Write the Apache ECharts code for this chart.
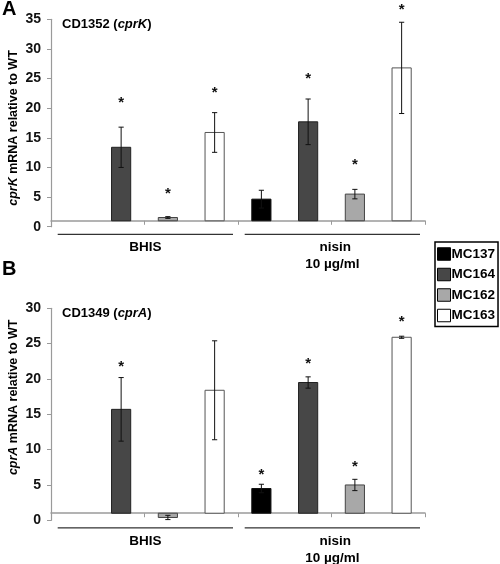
<!DOCTYPE html>
<html>
<head>
<meta charset="utf-8">
<script src="https://cdn.jsdelivr.net/npm/echarts@6/dist/echarts.min.js"></script>
<style>html,body{margin:0;padding:0;background:#fff;}#c{width:500px;height:564px;}</style>
</head>
<body>
<div id="c"></div>
<script>
// ---- data ----
const strains = ['MC137', 'MC164', 'MC162', 'MC163'];
const conditions = ['BHIS', 'nisin'];
const conditionSub = ['', '10 µg/ml'];
const categories = ['BHIS MC137', 'BHIS MC164', 'BHIS MC162', 'BHIS MC163', 'nisin MC137', 'nisin MC164', 'nisin MC162', 'nisin MC163'];
const baseline = 1; // expression relative to WT

// Panel A: CD1352 (cprK)
const cprkBHIS = [1, 13.4, 1.55, 15.9];
const cprkBHISErr = [0, 3.4, 0.15, 3.35];
const cprkNisin = [4.65, 17.7, 5.5, 26.8];
const cprkNisinErr = [1.5, 3.85, 0.8, 7.7];
const cprkStarBHIS = [null, 21.4, 6.1, 23.1];
const cprkStarNisin = [null, 25.4, 10.9, 37.1];
const cprkTicks = [0, 5, 10, 15, 20, 25, 30, 35];

// Panel B: CD1349 (cprA)
const cpraBHIS = [1, 15.7, 0.4, 18.4];
const cpraBHISErr = [0, 4.5, 0.3, 7.0];
const cpraNisin = [4.5, 19.5, 5.0, 25.9];
const cpraNisinErr = [0.6, 0.8, 0.8, 0.15];
const cpraStarBHIS = [null, 22.1, null, null];
const cpraStarNisin = [6.9, 22.5, 8.0, 28.5];
const cpraTicks = [0, 5, 10, 15, 20, 25, 30];

// ---- style ----
const FONT = "'Liberation Sans', Arial, sans-serif";
const fills = ['#000000', '#474747', '#a8a8a8', '#ffffff'];
const strokes = ['#111111', '#222222', '#444444', '#555555'];

const panels = [
  { bhis: cprkBHIS, bhisErr: cprkBHISErr, nisin: cprkNisin, nisinErr: cprkNisinErr,
    starB: cprkStarBHIS, starN: cprkStarNisin, ticks: cprkTicks,
    title: 'CD1352 ({i|cprK})', yname: '{i|cprK} mRNA relative to WT', letter: 'A',
    grid: { left: 51, top: 19.3, width: 374, height: 207.4 } },
  { bhis: cpraBHIS, bhisErr: cpraBHISErr, nisin: cpraNisin, nisinErr: cpraNisinErr,
    starB: cpraStarBHIS, starN: cpraStarNisin, ticks: cpraTicks,
    title: 'CD1349 ({i|cprA})', yname: '{i|cprA} mRNA relative to WT', letter: 'B',
    grid: { left: 51, top: 308.3, width: 374, height: 212 } }
];

function barRender(fill, stroke) {
  return function (params, api) {
    const x = api.value(0), v = api.value(1), e = api.value(2);
    const b = api.coord([x, baseline]);
    const t = api.coord([x, v]);
    const w = api.size([1, 0])[0] * 0.41;
    const children = [];
    const h = Math.abs(b[1] - t[1]);
    if (h > 0.5) {
      children.push({ type: 'rect', shape: { x: b[0] - w / 2, y: Math.min(b[1], t[1]), width: w, height: h },
        style: { fill: fill, stroke: stroke, lineWidth: 1 } });
    }
    if (e > 0) {
      const hi = api.coord([x, v + e]), lo = api.coord([x, v - e]);
      const cw = 2.6;
      const ls = { stroke: '#111', lineWidth: 1 };
      children.push({ type: 'line', shape: { x1: b[0], y1: hi[1], x2: b[0], y2: lo[1] }, style: ls });
      children.push({ type: 'line', shape: { x1: b[0] - cw, y1: hi[1], x2: b[0] + cw, y2: hi[1] }, style: ls });
      children.push({ type: 'line', shape: { x1: b[0] - cw, y1: lo[1], x2: b[0] + cw, y2: lo[1] }, style: ls });
    }
    return { type: 'group', children: children };
  };
}

function starRender(params, api) {
  const p = api.coord([api.value(0), api.value(1)]);
  return { type: 'text', x: p[0], y: p[1] + 3,
    style: { text: '*', font: 'bold 15px ' + FONT, fill: '#111',
      textAlign: 'center', textVerticalAlign: 'middle', align: 'center', verticalAlign: 'middle' } };
}

const series = [];
const xAxes = [], yAxes = [];
panels.forEach((P, g) => {
  const yMax = P.ticks[P.ticks.length - 1];
  xAxes.push({ type: 'category', gridIndex: g, data: categories, boundaryGap: true,
    offset: -(P.grid.height / yMax) * baseline,
    axisLine: { show: true, onZero: false, lineStyle: { color: '#9a9a9a', width: 1.5 } },
    axisTick: { show: true, length: 4, lineStyle: { color: '#9a9a9a', width: 1 } },
    axisLabel: { show: false }, splitLine: { show: false } });
  yAxes.push({ type: 'value', gridIndex: g, min: P.ticks[0], max: yMax, interval: 5,
    axisLine: { show: true, lineStyle: { color: '#9a9a9a', width: 1.2 } },
    axisTick: { show: true, length: 4, lineStyle: { color: '#9a9a9a' } },
    axisLabel: { fontFamily: FONT, fontWeight: 'bold', fontSize: 14, color: '#111', margin: 10 },
    splitLine: { show: false } });
  strains.forEach((s, k) => {
    series.push({ type: 'custom', name: s, xAxisIndex: g, yAxisIndex: g, clip: false,
      itemStyle: { color: fills[k], borderColor: '#000' },
      renderItem: barRender(fills[k], strokes[k]),
      data: [[k, P.bhis[k], P.bhisErr[k]], [k + 4, P.nisin[k], P.nisinErr[k]]] });
  });
  const stars = [];
  P.starB.forEach((v, k) => { if (v != null) stars.push([k, v]); });
  P.starN.forEach((v, k) => { if (v != null) stars.push([k + 4, v]); });
  series.push({ type: 'custom', name: 'sig' + g, xAxisIndex: g, yAxisIndex: g, clip: false,
    renderItem: starRender, data: stars, silent: true });
});

const chart = echarts.init(document.getElementById('c'), null, { renderer: 'canvas' });
chart.setOption({
  animation: false,
  backgroundColor: '#ffffff',
  grid: panels.map(P => P.grid),
  xAxis: xAxes,
  yAxis: yAxes,
  legend: {
    orient: 'vertical', left: 435, top: 242, padding: [5, 3, 4, 2], itemGap: 6.5,
    itemWidth: 13, itemHeight: 12.5, borderColor: '#000', borderWidth: 1.5,
    selectedMode: false,
    textStyle: { fontFamily: FONT, fontWeight: 'bold', fontSize: 13.5, color: '#000', padding: [0, 0, 0, -4] },
    data: strains.map((s, k) => ({ name: s, icon: 'rect', itemStyle: { color: fills[k], borderColor: '#000', borderWidth: 1 } }))
  },
  series: series
});

// decorations (titles, axis names, group brackets) placed from the axes' own scales
const graphics = [];
panels.forEach((P, g) => {
  const fin = { xAxisIndex: g, yAxisIndex: g };
  const c0 = chart.convertToPixel(fin, [0, 0]);
  const c1 = chart.convertToPixel(fin, [1, 0]);
  const band = c1[0] - c0[0];
  const yTop = chart.convertToPixel(fin, [0, P.ticks[P.ticks.length - 1]])[1];
  const yZero = c0[1];
  const rich = { i: { fontStyle: 'italic', fontWeight: 'bold', fontFamily: FONT, fontSize: 13, fill: '#000', color: '#000' } };
  graphics.push({ type: 'text', x: 2, y: yTop - (g ? 39 : 10),
    style: { text: P.letter, font: 'bold 20px ' + FONT, fill: '#000', textVerticalAlign: 'middle', verticalAlign: 'middle' } });
  graphics.push({ type: 'text', x: 62, y: yTop + 5,
    style: { text: P.title, font: 'bold 13px ' + FONT, fill: '#000', textVerticalAlign: 'middle', verticalAlign: 'middle', rich: rich } });
  const richY = { i: { fontStyle: 'italic', fontWeight: 'bold', fontFamily: FONT, fontSize: 12.5, fill: '#000', color: '#000' } };
  graphics.push({ type: 'text', x: 13.5, y: (yTop + yZero) / 2 + (g ? -17 : 5), rotation: Math.PI / 2,
    style: { text: P.yname, font: 'bold 12.5px ' + FONT, fill: '#000', textAlign: 'center', align: 'center',
      textVerticalAlign: 'middle', verticalAlign: 'middle', rich: richY } });
  conditions.forEach((cond, j) => {
    const left = c0[0] - band / 2 + j * 4 * band;
    const x1 = left + 6.7, x2 = left + 4 * band - 5;
    const ly = yZero + 7.6;
    graphics.push({ type: 'line', shape: { x1: x1, y1: ly, x2: x2, y2: ly }, style: { stroke: '#000', lineWidth: 1 } });
    graphics.push({ type: 'text', x: (x1 + x2) / 2 + (j ? 3 : 0), y: ly + 13,
      style: { text: cond, font: 'bold 13.5px ' + FONT, fill: '#000', textAlign: 'center', align: 'center', textVerticalAlign: 'middle', verticalAlign: 'middle' } });
    if (conditionSub[j]) {
      graphics.push({ type: 'text', x: (x1 + x2) / 2, y: ly + 30,
        style: { text: conditionSub[j], font: 'bold 13.5px ' + FONT, fill: '#000', textAlign: 'center', align: 'center', textVerticalAlign: 'middle', verticalAlign: 'middle' } });
    }
  });
});
chart.setOption({ graphic: graphics });
</script>
</body>
</html>
